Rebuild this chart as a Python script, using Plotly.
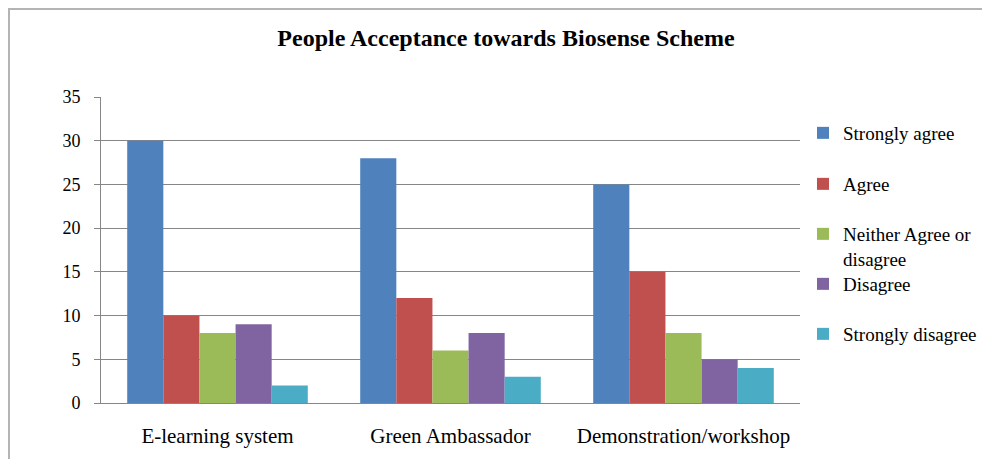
import plotly.graph_objects as go

categories = ["E-learning system", "Green Ambassador", "Demonstration/workshop"]
strongly_agree = [30, 28, 25]
agree = [10, 12, 15]
neither = [8, 6, 8]
disagree = [9, 8, 5]
strongly_disagree = [2, 3, 4]

series_names = ["Strongly agree", "Agree", "Neither Agree or<br>disagree", "Disagree", "Strongly disagree"]
series_values = [strongly_agree, agree, neither, disagree, strongly_disagree]
colors = ["#4F81BD", "#C0504D", "#9BBB59", "#8064A2", "#4BACC6"]

W, H = 990, 459
OFF = 8  # page body margin offset
# desired plot area in page pixels
PL, PR, PT, PB = 101, 800, 97, 403
L = PL - OFF
T = PT - OFF
R = W - (PR - OFF)
B = H - (PB - OFF)
pw, ph = W - L - R, H - T - B

def px_to_paper_x(x):
    return (x - OFF - L) / pw

def px_to_paper_y(y):
    return (H - B - (y - OFF)) / ph

FONT = "Liberation Serif, Times New Roman, serif"
legend_marker_y = [132, 183, 233, 283, 333]

fig = go.Figure()
layout_legends = {}
for i, (name, vals, c) in enumerate(zip(series_names, series_values, colors)):
    lname = "legend" if i == 0 else f"legend{i+1}"
    fig.add_trace(go.Bar(x=categories, y=vals, name=name, marker=dict(color=c, line=dict(width=0)),
                         legend=lname))
    layout_legends[lname] = dict(
        x=px_to_paper_x(803), y=px_to_paper_y(legend_marker_y[i] - 18),
        xanchor="left", yanchor="top", valign="top",
        bgcolor="rgba(0,0,0,0)", font=dict(family=FONT, size=19, color="#000"),
        itemwidth=30, itemsizing="constant",
    )

fig.update_layout(
    width=W, height=H,
    margin=dict(l=L, r=R, t=T, b=B),
    paper_bgcolor="white", plot_bgcolor="white",
    barmode="group", bargap=0.225, bargroupgap=0,
    title=dict(text="<b>People Acceptance towards Biosense Scheme</b>",
               x=px_to_paper_x(506), xref="paper", xanchor="center",
               y=1 - (38 - OFF) / H, yanchor="middle",
               font=dict(family=FONT, size=24, color="#000")),
    font=dict(family=FONT, size=18, color="#000"),
    xaxis=dict(showgrid=False, showline=True, linecolor="#868686", linewidth=1,
               ticks="", tickfont=dict(family=FONT, size=21, color="#000"), ticklabelstandoff=14),
    yaxis=dict(range=[0, 35], dtick=5, tick0=0, showgrid=True, gridcolor="#868686", gridwidth=1,
               showline=True, linecolor="#868686", linewidth=1, ticks="outside", ticklen=6,
               tickcolor="#868686", zeroline=False, ticklabelstandoff=10,
               tickfont=dict(family=FONT, size=18, color="#000")),
    showlegend=True,
    **layout_legends,
)

fig.add_shape(type="rect", xref="paper", yref="paper",
              x0=px_to_paper_x(9), x1=px_to_paper_x(1200),
              y0=px_to_paper_y(700), y1=px_to_paper_y(9),
              line=dict(color="#b4b4b4", width=2), fillcolor="rgba(0,0,0,0)", layer="below")

fig.write_html("out.html")
